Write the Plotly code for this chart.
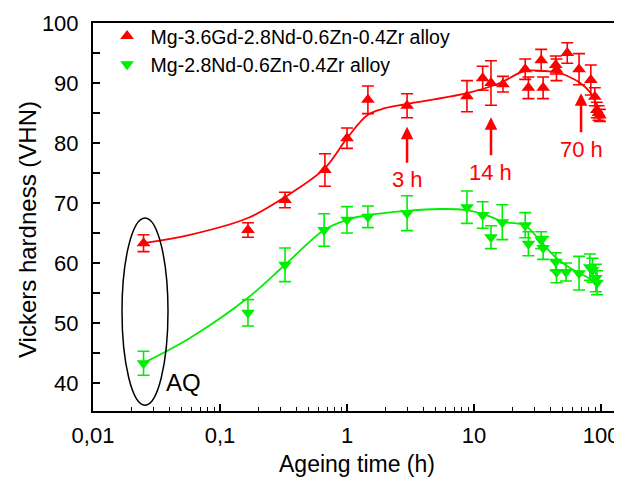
import math
import plotly.graph_objects as go

# ---- data ----
red_name = "Mg-3.6Gd-2.8Nd-0.6Zn-0.4Zr alloy"
red_t = [0.025, 0.166, 0.325, 0.67, 1.0, 1.46, 2.97, 8.8, 11.7, 13.6, 16.9, 25.3, 26.8,
         33.8, 35.0, 44.0, 44.6, 54.2, 67.1, 83.1, 89.3, 92.6, 95.5, 98.0]
red_v = [63.3, 65.5, 70.5, 75.5, 80.8, 87.2, 86.2, 87.8, 90.8, 90.0, 89.8, 92.3, 89.2,
         93.8, 89.2, 93.0, 92.2, 95.0, 92.3, 90.5, 87.7, 85.5, 85.0, 84.6]
red_err = [1.4, 1.2, 1.3, 2.7, 1.7, 2.3, 2.0, 2.6, 2.0, 3.7, 1.3, 1.7, 1.8,
           1.8, 1.8, 1.5, 1.8, 1.7, 2.6, 2.5, 1.5, 1.3, 1.2, 1.0]

green_name = "Mg-2.8Nd-0.6Zn-0.4Zr alloy"
green_t = [0.025, 0.166, 0.325, 0.66, 1.0, 1.46, 2.97, 8.8, 11.7, 13.6, 16.7, 25.3, 26.8,
           33.8, 35.0, 44.0, 44.6, 53.0, 67.1, 81.6, 85.6, 91.0, 93.0]
green_v = [43.3, 51.7, 59.7, 65.5, 67.2, 67.7, 68.3, 69.3, 68.0, 64.3, 66.8, 66.3, 63.2,
           63.8, 62.5, 60.2, 58.5, 58.5, 58.3, 59.3, 58.8, 57.5, 56.7]
green_err = [2.0, 2.2, 2.8, 2.7, 2.2, 1.8, 2.9, 2.7, 2.2, 1.9, 2.9, 2.1, 2.0,
             1.4, 1.9, 1.5, 1.8, 1.5, 2.8, 2.2, 2.0, 2.3, 2.0]

# fitted curves
red_fit_t = [0.0248, 0.058, 0.166, 0.325, 0.67, 1.0, 1.46, 1.99, 2.97, 8.8, 16.0, 25.0,
             35.0, 44.6, 56.5, 68.6, 81.6, 95.0]
red_fit_v = [63.3, 64.7, 67.5, 71.0, 75.8, 80.8, 84.7, 85.8, 86.5, 88.3, 90.0, 92.0,
             92.0, 91.8, 91.0, 90.0, 88.5, 85.8]
green_fit_t = [0.0248, 0.058, 0.166, 0.325, 0.66, 1.0, 1.46, 2.97, 5.4, 8.8, 13.6, 16.7,
               25.4, 32.8, 44.6, 56.5, 72.2, 91.4]
green_fit_v = [43.3, 47.5, 54.2, 59.7, 65.5, 67.2, 68.0, 68.7, 69.0, 68.8, 67.7, 66.9,
               66.2, 63.8, 60.8, 59.2, 58.0, 56.8]

x_tickvals = [0.01, 0.1, 1, 10, 100]
x_ticktext = ["0,01", "0,1", "1", "10", "100"]
y_tickvals = [40, 50, 60, 70, 80, 90, 100]

marks = [("3 h", 2.97, 82.7, 53), ("14 h", 13.6, 84.3, 55), ("70 h", 69.6, 88.3, 56)]

RED = "#ff0000"
GREEN = "#00ee00"
FONT = "Liberation Sans, Arial, sans-serif"

fig = go.Figure()
fig.add_trace(go.Scatter(x=red_fit_t, y=red_fit_v, mode="lines", line=dict(color=RED, width=1.8, shape="spline", smoothing=1.0),
                         showlegend=False, hoverinfo="skip"))
fig.add_trace(go.Scatter(x=green_fit_t, y=green_fit_v, mode="lines", line=dict(color=GREEN, width=1.8, shape="spline", smoothing=1.0),
                         showlegend=False, hoverinfo="skip"))
fig.add_trace(go.Scatter(x=red_t, y=red_v, mode="markers", name=red_name,
                         marker=dict(symbol="triangle-up", size=12, color=RED),
                         error_y=dict(type="data", array=red_err, color=RED, thickness=1.6, width=6)))
fig.add_trace(go.Scatter(x=green_t, y=green_v, mode="markers", name=green_name,
                         marker=dict(symbol="triangle-down", size=12, color=GREEN),
                         error_y=dict(type="data", array=green_err, color=GREEN, thickness=1.6, width=6)))

for label, t, v, off in marks:
    fig.add_annotation(x=math.log10(t), y=v, xref="x", yref="y", text=label, showarrow=True,
                       ax=0, ay=off, arrowhead=2, arrowsize=1, arrowwidth=2.5, arrowcolor=RED,
                       startstandoff=3, font=dict(family=FONT, size=22, color=RED))

fig.add_annotation(x=math.log10(0.025), y=40.0, xref="x", yref="y", text="AQ", showarrow=False,
                   xanchor="left", xshift=20, font=dict(family=FONT, size=24, color="black"))

# axis titles as annotations for exact placement
fig.add_annotation(x=(27 - 93) / 529, y=(411 - 230) / 388, xref="paper", yref="paper",
                   text="Vickers hardness (VHN)", textangle=-90, showarrow=False,
                   xanchor="center", yanchor="middle", font=dict(family=FONT, size=24, color="black"))
fig.add_annotation(x=(357 - 93) / 529, y=-(464 - 411) / 388, xref="paper", yref="paper",
                   text="Ageing time (h)", showarrow=False,
                   xanchor="center", yanchor="middle", font=dict(family=FONT, size=23, color="black"))

# ellipse around the as-quenched points
fig.add_shape(type="circle", xref="paper", yref="y", x0=(122 - 93) / 529, x1=(168 - 93) / 529,
              y0=36.3, y1=67.5, line=dict(color="black", width=1.5))

# page body has an 8px margin: the figure is sized to fill the rest of the window
fig.update_layout(
    width=614, height=469,
    margin=dict(l=85, r=0, t=15, b=66),
    paper_bgcolor="white", plot_bgcolor="white",
    font=dict(family=FONT, size=22, color="black"),
    legend=dict(x=0.02, y=1.016, xanchor="left", yanchor="top", bgcolor="rgba(0,0,0,0)",
                font=dict(family=FONT, size=19.5, color="black"), itemwidth=37, tracegroupgap=0),
    xaxis=dict(type="log", range=[-2, 2.165], tickvals=x_tickvals, ticktext=x_ticktext,
               ticks="inside", ticklen=7, tickwidth=1.5, tickcolor="black", automargin=False,
               showline=True, linecolor="black", linewidth=2, mirror=True, showgrid=False, zeroline=False,
               minor=dict(ticks="inside", ticklen=4, tickwidth=1.2, tickcolor="black", dtick="D1", showgrid=False),
               tickfont=dict(size=22), ticklabelstandoff=4),
    yaxis=dict(range=[35.33, 100], tickvals=y_tickvals, automargin=False,
               ticks="inside", ticklen=7, tickwidth=1.5, tickcolor="black",
               showline=True, linecolor="black", linewidth=2, mirror=False, showgrid=False, zeroline=False,
               minor=dict(ticks="inside", ticklen=7, tickwidth=1.5, tickcolor="black", dtick=5, showgrid=False),
               tickfont=dict(size=22), ticklabelstandoff=8),
)
fig.write_html("out.html")
